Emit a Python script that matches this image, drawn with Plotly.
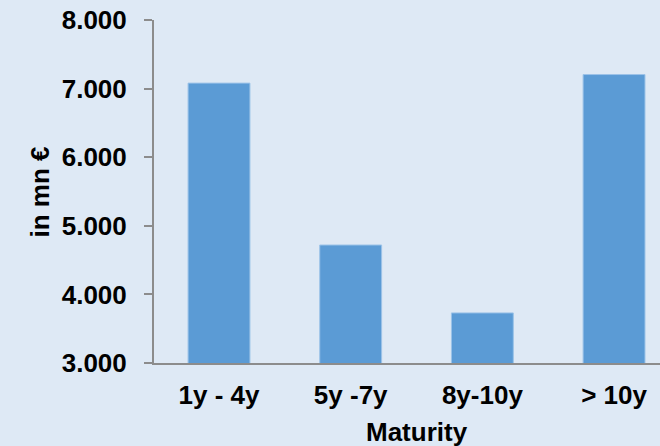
import plotly.graph_objects as go

categories = ["1y - 4y", "5y -7y", "8y-10y", "> 10y"]
values = [7080, 4720, 3730, 7205]
y_ticks = [3000, 4000, 5000, 6000, 7000, 8000]

FONT = dict(family="Liberation Sans, Arial, sans-serif", size=26, color="#000000", weight="bold")

fig = go.Figure(go.Bar(
    x=list(range(len(categories))),
    y=values,
    marker=dict(color="#5b9bd5", line=dict(color="#9cc3e8", width=1)),
    width=0.47,
))

fig.update_layout(
    width=660, height=446,
    margin=dict(l=154, r=0, t=20, b=83),
    paper_bgcolor="#dee9f5",
    plot_bgcolor="#dee9f5",
    separators=",.",
    font=FONT,
    showlegend=False,
    xaxis=dict(
        range=[-0.4937, 3.349],
        tickvals=list(range(len(categories))),
        ticktext=categories,
        showgrid=False, zeroline=False,
        showline=True, linecolor="#8c8c8c", linewidth=2,
        ticks="", ticklabelstandoff=8,
        tickfont=FONT,
    ),
    yaxis=dict(
        range=[3000, 8000],
        tickvals=y_ticks,
        tickformat=",d",
        showgrid=False, zeroline=False,
        showline=True, linecolor="#8c8c8c", linewidth=2,
        ticks="outside", ticklen=8, tickcolor="#8c8c8c", tickwidth=2,
        ticklabelstandoff=12,
        tickfont=FONT,
    ),
    annotations=[
        dict(text="Maturity", xref="paper", yref="paper", x=0.52, y=-0.2026,
             xanchor="center", yanchor="middle", showarrow=False, font=FONT),
        dict(text="in mn €", xref="paper", yref="paper", x=-0.2253, y=0.5,
             xanchor="center", yanchor="middle", showarrow=False, textangle=-90, font=FONT),
    ],
)

fig.write_html("out.html")
